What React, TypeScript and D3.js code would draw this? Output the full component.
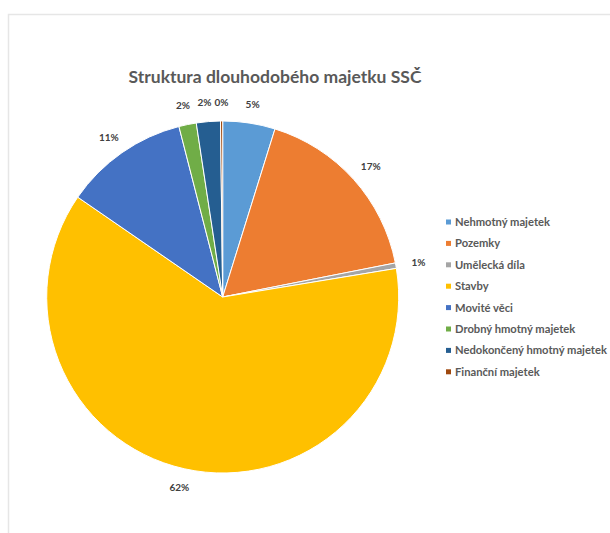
import React from "react";
import * as d3 from "d3";

const categories = [
  "Nehmotný majetek",
  "Pozemky",
  "Umělecká díla",
  "Stavby",
  "Movité věci",
  "Drobný hmotný majetek",
  "Nedokončený hmotný majetek",
  "Finanční majetek",
];
const values = [4.8, 17.1, 0.5, 62.2, 11.4, 1.6, 2.2, 0.2];
const labels = ["5%", "17%", "1%", "62%", "11%", "2%", "2%", "0%"];
const colors = ["#5B9BD5", "#ED7D31", "#A5A5A5", "#FFC000", "#4472C4", "#70AD47", "#255E91", "#9E480E"];
const title = "Struktura dlouhodobého majetku SSČ";

export default function App() {
  const W = 610, H = 533;
  const cx = 222.7, cy = 297, R = 176;
  const pie = d3.pie<number>().sort(null).value((d) => d)(values);
  const arc = d3.arc<d3.PieArcDatum<number>>().innerRadius(0).outerRadius(R);
  const font = "Lato, 'Open Sans', sans-serif";
  const fs = 10;
  const pos = pie.map((p, i) => {
    const a = (p.startAngle + p.endAngle) / 2;
    const s = Math.sin(a), c = -Math.cos(a);
    const rr = R + 14;
    const w = labels[i].length * fs * 0.7;
    return { x: rr * s + s * 9, y: rr * c + c * 5, w, i };
  });
  // simple collision avoidance for labels crowded at the top
  const top = pos.filter((p) => p.y < -R).sort((a, b) => b.x - a.x);
  for (let k = 1; k < top.length; k++) {
    const prev = top[k - 1], cur = top[k];
    const lim = prev.x - (prev.w / 2 + cur.w / 2 + 3);
    if (cur.x > lim) cur.x = lim;
  }
  return (
    <svg width={W} height={H} style={{ position: "absolute", left: 0, top: 0 }} fontFamily={font}>
      <rect x={0} y={0} width={W} height={H} fill="#fff" />
      <path d={`M8.5,${H} L8.5,14.5 L${W},14.5`} fill="none" stroke="#e6e6e6" strokeWidth={1.5} />
      <text x={275} y={83} textAnchor="middle" fontSize={17.5} fontWeight={700} fill="#595959">{title}</text>
      <g transform={`translate(${cx},${cy})`}>
        {pie.map((p, i) => (
          <path key={i} d={arc(p) || ""} fill={colors[i]} stroke="#fff" strokeWidth={1} />
        ))}
        {pos.map((p) => (
          <text key={p.i} x={p.x} y={p.y} dy="0.35em" textAnchor="middle" fontSize={fs} fontWeight={700} fill="#404040">
            {labels[p.i]}
          </text>
        ))}
      </g>
      <g>
        {categories.map((c, i) => {
          const y = 222 + i * 21.4;
          return (
            <g key={i}>
              <rect x={446} y={y - 2.5} width={5} height={5} fill={colors[i]} />
              <text x={455} y={y} dy="0.35em" fontSize={11.2} fontWeight={700} fill="#595959">{c}</text>
            </g>
          );
        })}
      </g>
    </svg>
  );
}
